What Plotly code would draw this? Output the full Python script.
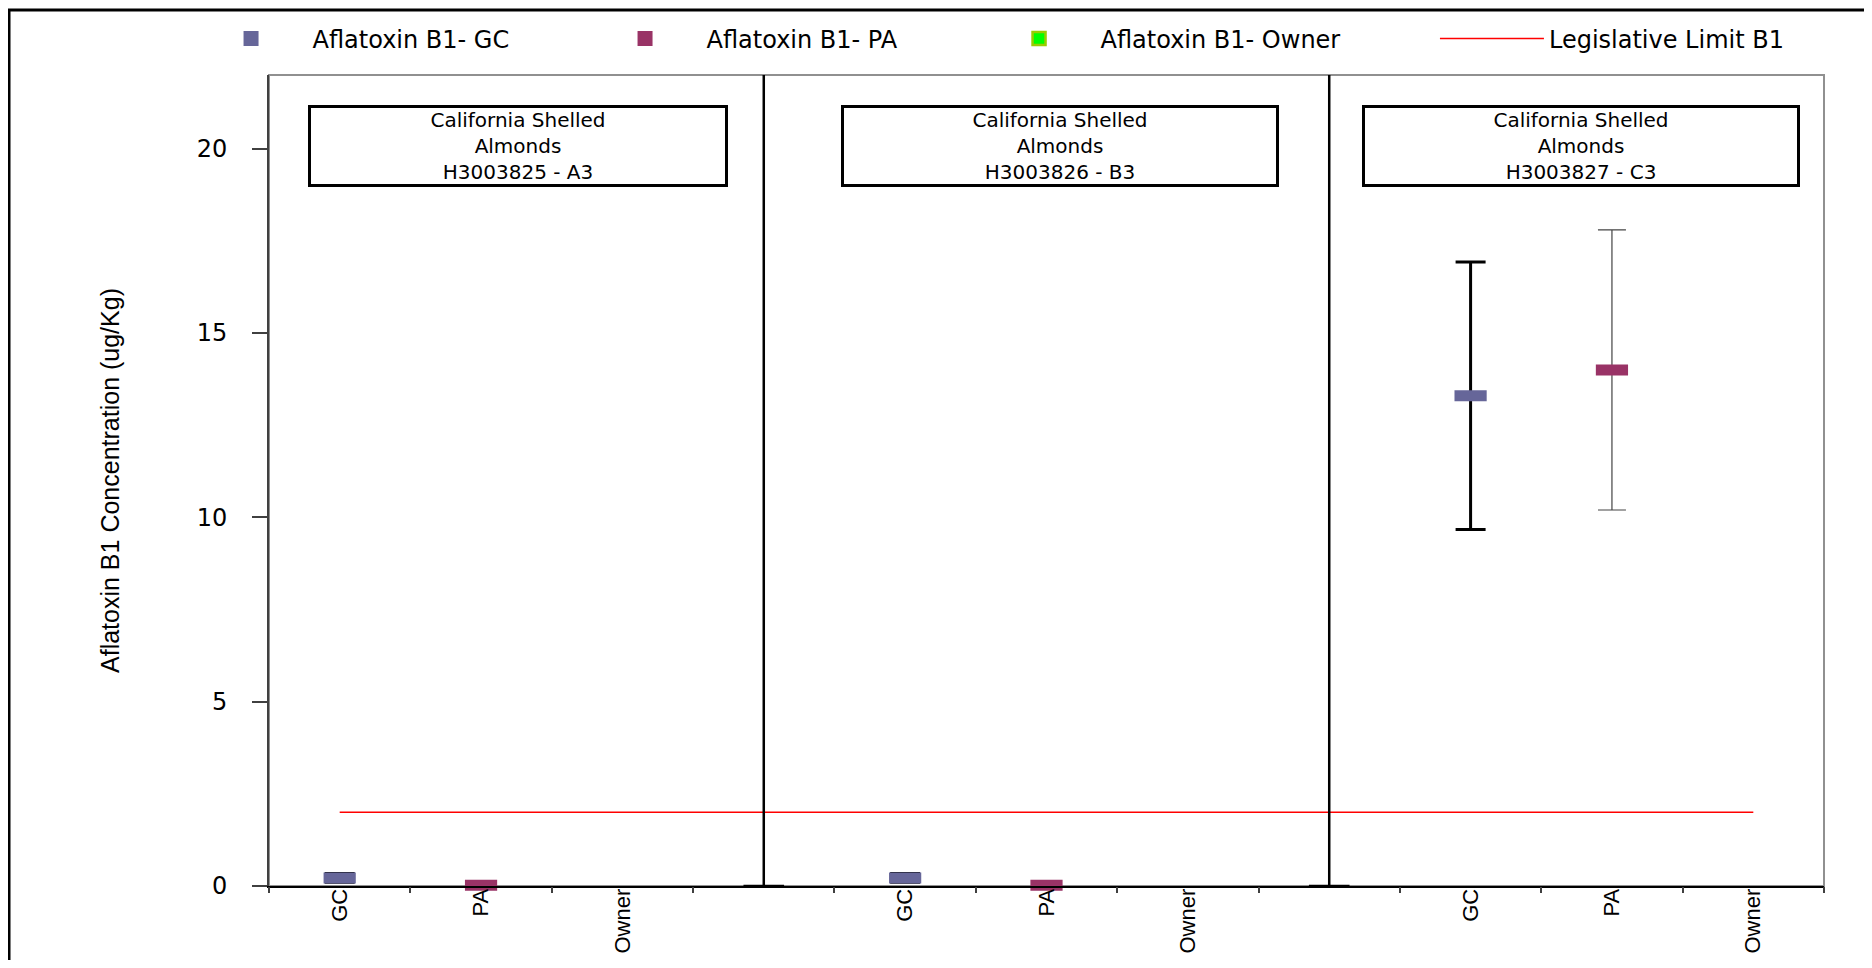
import plotly.graph_objects as go

# ---- data ----
categories = ["GC", "PA", "Owner", "", "GC", "PA", "Owner", "", "GC", "PA", "Owner"]
samples = ["H3003825 - A3", "H3003826 - B3", "H3003827 - C3"]
product = ["California Shelled", "Almonds"]
gc_values = [0.22, 0.22, 13.3]
gc_errors = [0.12, 0.12, 3.63]
pa_values = [0.02, 0.02, 14.0]
pa_errors = [0.0, 0.0, 3.8]
owner_values = [None, None, None]
limit_values = [2, 2, 2, 2, 2, 2, 2, 2, 2, 2, 2]
separator_heights = [22.2, 22.2]
y_ticks = [0, 5, 10, 15, 20]

positions = list(range(len(categories)))
gc_x = [i for i, c in enumerate(categories) if c == "GC"]
pa_x = [i for i, c in enumerate(categories) if c == "PA"]
owner_x = [i for i, c in enumerate(categories) if c == "Owner"]
sep_x = [i for i, c in enumerate(categories) if c == ""]
boundaries = [p - 0.5 for p in positions] + [positions[-1] + 0.5]
x_range = [-0.5, positions[-1] + 0.5]

FONT = "DejaVu Sans, Liberation Sans, Arial, sans-serif"
TFONT = "Liberation Sans, Arial, sans-serif"
GC_COL = "#666699"
PA_COL = "#993366"

fig = go.Figure()

# separators between sample groups (drawn on the boundary-tick axis, same range)
fig.add_trace(go.Scatter(
    x=sep_x, y=[0 for _ in sep_x], mode="markers", showlegend=False, xaxis="x2",
    marker=dict(symbol="line-ew", size=29, line=dict(color="black", width=2.5)),
    error_y=dict(type="data", array=separator_heights, arrayminus=[0 for _ in sep_x],
                 symmetric=False, width=0, thickness=2.5, color="black"),
    cliponaxis=False, hoverinfo="skip"))

# legislative limit
fig.add_trace(go.Scatter(
    x=positions, y=limit_values, mode="lines", name="Legislative Limit B1",
    line=dict(color="#FF0000", width=1.5), legend="legend2"))

# data traces
fig.add_trace(go.Scatter(
    x=gc_x, y=gc_values, mode="markers", showlegend=False, name="Aflatoxin B1- GC",
    marker=dict(symbol="line-ew", size=23, color=GC_COL, line=dict(color=GC_COL, width=11)),
    error_y=dict(type="data", array=gc_errors, width=15, thickness=3, color="black"),
    cliponaxis=False))
fig.add_trace(go.Scatter(
    x=pa_x, y=pa_values, mode="markers", showlegend=False, name="Aflatoxin B1- PA",
    marker=dict(symbol="line-ew", size=23, color=PA_COL, line=dict(color=PA_COL, width=11)),
    error_y=dict(type="data", array=pa_errors, width=14, thickness=1.2, color="#444444"),
    cliponaxis=False))
fig.add_trace(go.Scatter(
    x=owner_x, y=owner_values, mode="markers", showlegend=False, name="Aflatoxin B1- Owner",
    marker=dict(symbol="square", size=12, color="#00FF00", line=dict(color="#99CC00", width=2))))

# legend entries
fig.add_trace(go.Scatter(x=[None], y=[None], mode="markers", name="Aflatoxin B1- GC",
                         marker=dict(symbol="square", size=15, color=GC_COL)))
fig.add_trace(go.Scatter(x=[None], y=[None], mode="markers", name="Aflatoxin B1- PA",
                         marker=dict(symbol="square", size=15, color=PA_COL)))
fig.add_trace(go.Scatter(x=[None], y=[None], mode="markers", name="Aflatoxin B1- Owner",
                         marker=dict(symbol="square", size=13, color="#00FF00",
                                     line=dict(color="#99CC00", width=2.5))))

annotations = []
box_x = [0.160, 0.509, 0.844]
box_w = [414, 432, 432]
for s, bx, bw in zip(samples, box_x, box_w):
    annotations.append(dict(
        xref="paper", yref="paper", x=bx, y=0.912, xanchor="center", yanchor="middle",
        text="<br>".join(product + [s]), showarrow=False, align="center",
        font=dict(family=FONT, size=20, color="black"),
        bordercolor="black", borderwidth=3, borderpad=0, bgcolor="white",
        width=bw, height=76))

legend_common = dict(orientation="h", yanchor="middle", xanchor="left",
                     font=dict(family=FONT, size=24, color="black"),
                     bgcolor="rgba(0,0,0,0)", traceorder="normal")

# the page adds an 8px body margin, so the figure is 16px smaller and margins shifted
fig.update_layout(
    width=1856, height=952,
    margin=dict(l=261, r=40, t=67, b=74, autoexpand=False),
    paper_bgcolor="white", plot_bgcolor="white",
    font=dict(family=FONT, size=20, color="black"),
    showlegend=True,
    legend=dict(x=-0.0511, y=1.0444, entrywidth=266, itemwidth=113, **legend_common),
    legend2=dict(x=0.7498, y=1.0444, itemwidth=104, **legend_common),
    annotations=annotations,
    xaxis=dict(range=x_range, tickvals=positions, ticktext=categories,
               tickangle=-90, ticks="", showline=True, linecolor="black", linewidth=2,
               showgrid=False, zeroline=False, automargin=False, ticklabelstandoff=-8,
               tickfont=dict(family=TFONT, size=22, color="black")),
    xaxis2=dict(overlaying="x", anchor="y", side="bottom",
                range=x_range, tickvals=boundaries,
                ticks="outside", ticklen=6, tickcolor="#404040", tickwidth=1.5,
                showticklabels=False, showline=False, showgrid=False, zeroline=False,
                automargin=False),
    yaxis=dict(range=[0, 22], tickvals=y_ticks, ticks="outside", ticklen=15,
               tickcolor="#404040", tickwidth=1.5, showline=True, linecolor="#404040",
               linewidth=2, showgrid=False, zeroline=False, ticklabelstandoff=20,
               automargin=False,
               tickfont=dict(family=FONT, size=24, color="black"),
               title=dict(text="Aflatoxin B1 Concentration (ug/Kg)", standoff=70,
                          font=dict(family=TFONT, size=25, color="black"))),
    shapes=[
        dict(type="rect", xref="paper", yref="paper", x0=0, x1=1, y0=0, y1=1,
             line=dict(color="#909090", width=2), layer="below"),
        dict(type="rect", xref="paper", yref="paper", x0=-0.1672, x1=1.04,
             y0=-0.15, y1=1.080, line=dict(color="black", width=3), layer="below"),
    ],
)

fig.write_html("out.html")
